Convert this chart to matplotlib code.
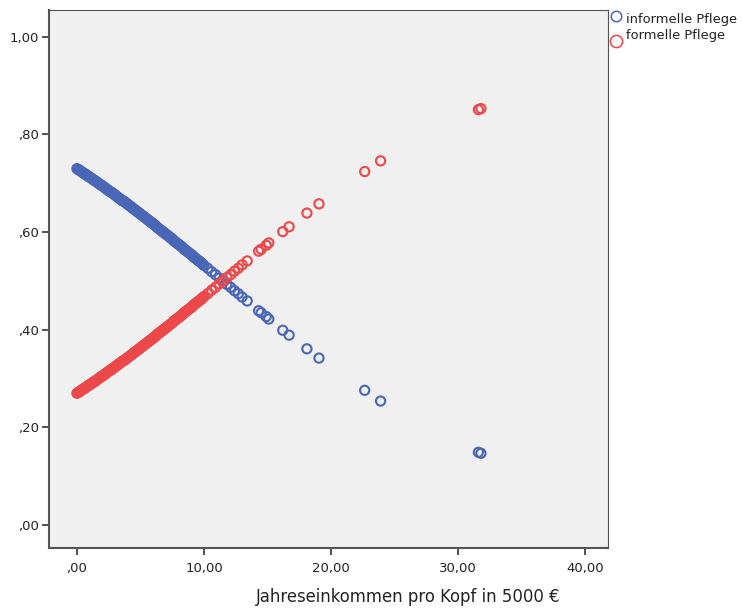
import matplotlib
matplotlib.use("Agg")
import matplotlib.pyplot as plt
from matplotlib.lines import Line2D

# ---- data ----
income = [0.0, 0.1, 0.2, 0.3, 0.4, 0.5, 0.6, 0.7, 0.8, 0.9,
          1.0, 1.1, 1.2, 1.3, 1.4, 1.5, 1.6, 1.7, 1.8, 1.9,
          2.0, 2.1, 2.2, 2.3, 2.4, 2.5, 2.6, 2.7, 2.8, 2.9,
          3.0, 3.1, 3.2, 3.3, 3.4, 3.5, 3.6, 3.7, 3.8, 3.9,
          4.0, 4.1, 4.2, 4.3, 4.4, 4.5, 4.6, 4.7, 4.8, 4.9,
          5.0, 5.1, 5.2, 5.3, 5.4, 5.5, 5.6, 5.7, 5.8, 5.9,
          6.0, 6.1, 6.2, 6.3, 6.4, 6.5, 6.6, 6.7, 6.8, 6.9,
          7.0, 7.1, 7.2, 7.3, 7.4, 7.5, 7.6, 7.7, 7.8, 7.9,
          8.0, 8.1, 8.2, 8.3, 8.4, 8.5, 8.6, 8.7, 8.8, 8.9,
          9.0, 9.1, 9.2, 9.3, 9.4, 9.5, 9.6, 9.7, 9.8, 9.9,
          10.0, 10.3, 10.6, 10.9, 11.2, 11.5, 11.8, 12.1, 12.4, 12.7,
          13.0, 13.4, 14.3, 14.5, 14.9, 15.1, 16.2, 16.7, 18.1, 19.05,
          22.65, 23.9, 31.6, 31.8]

formell = [0.270, 0.272, 0.273, 0.275, 0.277, 0.279, 0.280, 0.282, 0.284, 0.286,
           0.287, 0.289, 0.291, 0.293, 0.294, 0.296, 0.298, 0.300, 0.302, 0.304,
           0.305, 0.307, 0.309, 0.311, 0.313, 0.315, 0.317, 0.318, 0.320, 0.322,
           0.324, 0.326, 0.328, 0.330, 0.332, 0.334, 0.336, 0.337, 0.339, 0.341,
           0.343, 0.345, 0.347, 0.349, 0.351, 0.353, 0.355, 0.357, 0.359, 0.361,
           0.363, 0.365, 0.367, 0.369, 0.371, 0.373, 0.375, 0.377, 0.379, 0.381,
           0.383, 0.385, 0.387, 0.390, 0.392, 0.394, 0.396, 0.398, 0.400, 0.402,
           0.404, 0.406, 0.408, 0.410, 0.412, 0.414, 0.417, 0.419, 0.421, 0.423,
           0.425, 0.427, 0.429, 0.431, 0.434, 0.436, 0.438, 0.440, 0.442, 0.444,
           0.446, 0.448, 0.451, 0.453, 0.455, 0.457, 0.459, 0.461, 0.463, 0.466,
           0.468, 0.474, 0.481, 0.487, 0.494, 0.500, 0.507, 0.513, 0.520, 0.526,
           0.533, 0.541, 0.561, 0.565, 0.573, 0.578, 0.601, 0.611, 0.639, 0.658,
           0.724, 0.746, 0.851, 0.853]

informell = [0.730, 0.728, 0.727, 0.725, 0.723, 0.721, 0.720, 0.718, 0.716, 0.714,
             0.713, 0.711, 0.709, 0.707, 0.706, 0.704, 0.702, 0.700, 0.698, 0.696,
             0.695, 0.693, 0.691, 0.689, 0.687, 0.685, 0.683, 0.682, 0.680, 0.678,
             0.676, 0.674, 0.672, 0.670, 0.668, 0.666, 0.664, 0.663, 0.661, 0.659,
             0.657, 0.655, 0.653, 0.651, 0.649, 0.647, 0.645, 0.643, 0.641, 0.639,
             0.637, 0.635, 0.633, 0.631, 0.629, 0.627, 0.625, 0.623, 0.621, 0.619,
             0.617, 0.615, 0.613, 0.610, 0.608, 0.606, 0.604, 0.602, 0.600, 0.598,
             0.596, 0.594, 0.592, 0.590, 0.588, 0.586, 0.583, 0.581, 0.579, 0.577,
             0.575, 0.573, 0.571, 0.569, 0.566, 0.564, 0.562, 0.560, 0.558, 0.556,
             0.554, 0.552, 0.549, 0.547, 0.545, 0.543, 0.541, 0.539, 0.537, 0.534,
             0.532, 0.526, 0.519, 0.513, 0.506, 0.500, 0.493, 0.487, 0.480, 0.474,
             0.467, 0.459, 0.439, 0.435, 0.427, 0.422, 0.399, 0.389, 0.361, 0.342,
             0.276, 0.254, 0.149, 0.147]

x_ticks = [0, 10, 20, 30, 40]
x_ticklabels = [",00", "10,00", "20,00", "30,00", "40,00"]
y_ticks = [0.0, 0.2, 0.4, 0.6, 0.8, 1.0]
y_ticklabels = [",00", ",20", ",40", ",60", ",80", "1,00"]
series_names = ["informelle Pflege", "formelle Pflege"]

# ---- style ----
blue = "#4a67b7"
red = "#ec4749"
W, H = 743, 610
fig = plt.figure(figsize=(W / 100, H / 100), dpi=100)
ax = fig.add_axes([49 / W, 1 - 548 / H, (608 - 49) / W, (548 - 10) / H])
ax.set_facecolor("#f0f0f0")

ax.scatter(income, informell, s=44, facecolors="none", edgecolors=blue, linewidths=1.5, zorder=3)
ax.scatter(income, formell, s=44, facecolors="none", edgecolors=red, linewidths=1.5, zorder=4)

ax.set_xlim(-2.2, 41.8)
ax.set_ylim(-0.047, 1.055)
ax.set_xticks(x_ticks)
ax.set_xticklabels(x_ticklabels)
ax.set_yticks(y_ticks)
ax.set_yticklabels(y_ticklabels)
ax.tick_params(direction="out", length=5, width=1.3, color="#444444",
               labelsize=9.5, labelcolor="#222222")
ax.tick_params(axis="x", pad=5)
ax.tick_params(axis="y", pad=2)

for side in ["top", "right", "left", "bottom"]:
    ax.spines[side].set_color("#555555")
    ax.spines[side].set_linewidth(1.5)
ax.spines["top"].set_linewidth(0.8)
ax.spines["right"].set_linewidth(0.8)

ax.set_xlabel("Jahreseinkommen pro Kopf in 5000 €", fontsize=11.9, color="#222222")
ax.xaxis.set_label_coords(0.642, -0.075)

# legend (outside, top right)
fig.add_artist(Line2D([616 / W], [1 - 16 / H], transform=fig.transFigure, marker="o",
                      linestyle="none", markersize=7.5, markerfacecolor="none",
                      markeredgecolor=blue, markeredgewidth=1.1))
fig.add_artist(Line2D([616 / W], [1 - 41 / H], transform=fig.transFigure, marker="o",
                      linestyle="none", markersize=8.8, markerfacecolor="none",
                      markeredgecolor=red, markeredgewidth=1.1))
fig.text(626 / W, 1 - 19 / H, series_names[0], fontsize=9.4, color="#222222",
         ha="left", va="center")
fig.text(626 / W, 1 - 36 / H, series_names[1], fontsize=9.4, color="#222222",
         ha="left", va="center")

fig.savefig("out.png", dpi=100)
